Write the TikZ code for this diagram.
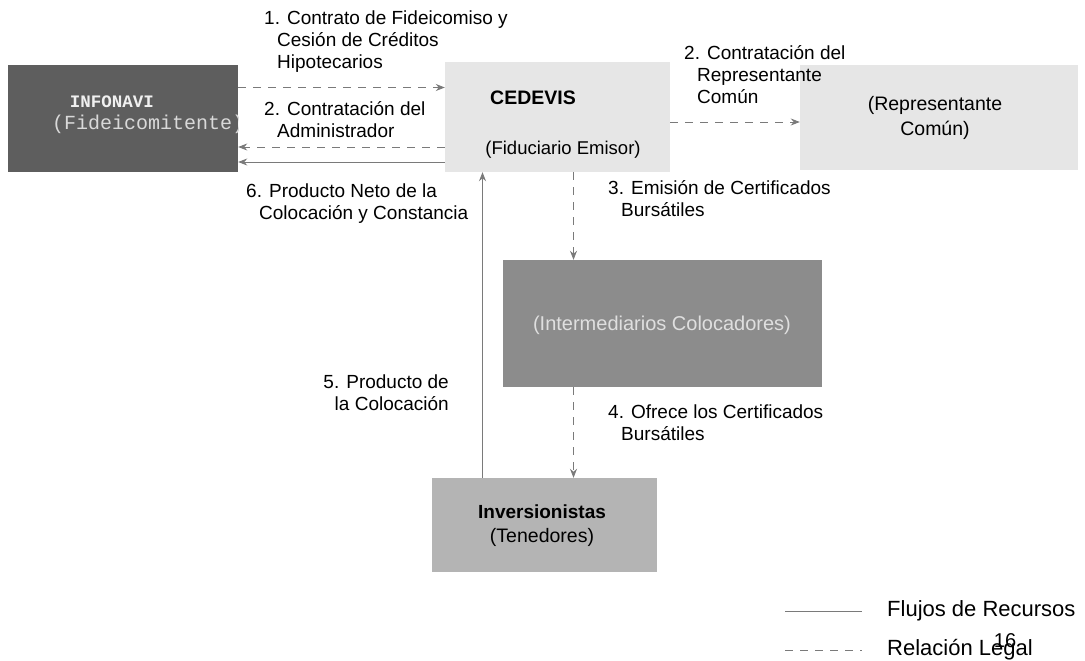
\documentclass[tikz,border=0pt]{standalone}
\usepackage{fontspec}
\setmainfont{Liberation Sans}
\setmonofont{Liberation Mono}
\usetikzlibrary{arrows.meta,positioning}

\definecolor{boxdark}{HTML}{5E5E5E}
\definecolor{boxlight}{HTML}{E6E6E6}
\definecolor{boxmid}{HTML}{8C8C8C}
\definecolor{boxinv}{HTML}{B4B4B4}
\definecolor{linegray}{HTML}{7A7A7A}

\tikzset{
  party/.style={rectangle, inner sep=0pt, draw=none},
  legal/.style={draw=linegray, line width=0.9pt, dash pattern=on 8pt off 7pt, -{Stealth[length=9pt,width=7pt]}},
  flow/.style={draw=linegray, line width=0.9pt, -{Stealth[length=9pt,width=7pt]}},
  lbl/.style={inner sep=0pt, align=left, font=\fontsize{19}{22}\selectfont}
}
\newcommand{\cont}{\hspace*{13pt}}

\begin{document}
\begin{tikzpicture}[x=1pt, y=-1pt]
\useasboundingbox (0,0) rectangle (1085,661);

% Boxes
\node[party, fill=boxdark, minimum width=230pt, minimum height=107pt] (infonavi) at (123,118.5) {};
\node[party, fill=boxlight, minimum width=225pt, minimum height=110pt] (cedevis) at (557.5,117) {};
\node[party, fill=boxlight, minimum width=278pt, minimum height=105pt] (repcomun) at (939,117.5) {};
\node[party, fill=boxmid, minimum width=319pt, minimum height=127pt] (interm) at (662.5,323.5) {};
\node[party, fill=boxinv, minimum width=225pt, minimum height=94pt] (invers) at (544.5,525) {};

% Texts in the boxes
\node[text=gray!12, font=\fontsize{17.5}{18}\selectfont\ttfamily\bfseries] (infonaviname) at (112,102) {INFONAVI};
\begin{scope}
\clip (infonavi.north west) rectangle (infonavi.south east);
\node[text=gray!30, font=\fontsize{20}{22}\selectfont\ttfamily, anchor=west, inner sep=0pt] (infonavirole) at (52,124) {(Fideicomitente)};
\end{scope}
\node[font=\fontsize{19.5}{20}\selectfont\bfseries] (cedevisname) at (533,98) {CEDEVIS};
\node[font=\fontsize{18.5}{20}\selectfont] (cedevisrole) at (563,150) {(Fiduciario Emisor)};
\node[align=center, font=\fontsize{19.5}{25}\selectfont] (repname) at (935,118) {(Representante\\Común)};
\node[text=gray!25, font=\fontsize{20}{20}\selectfont] (intermname) at (662,325) {(Intermediarios Colocadores)};
\node[font=\fontsize{19}{20}\selectfont\bfseries] (inversname) at (542,512) {Inversionistas};
\node[font=\fontsize{19.5}{20}\selectfont] (inversrole) at (542,537) {(Tenedores)};

% Legal relations
\draw[legal] ([yshift=31pt]infonavi.east) -- ([yshift=31pt]infonavi.east -| cedevis.west);
\draw[legal] ([yshift=-30pt]cedevis.west) -- ([yshift=-30pt]cedevis.west -| infonavi.east);
\draw[legal] ([yshift=-5pt]cedevis.east) -- ([yshift=-5pt]cedevis.east -| repcomun.west);
\draw[legal] ([xshift=16pt]cedevis.south) -- ([xshift=16pt]cedevis.south |- interm.north);
\draw[legal] ([xshift=16pt]cedevis.south |- interm.south) -- ([xshift=16pt]cedevis.south |- invers.north);

% Resource flows
\draw[flow] ([yshift=-45pt]cedevis.west) -- ([yshift=-45pt]cedevis.west -| infonavi.east);
\draw[flow] ([xshift=-62pt]invers.north) -- ([xshift=-62pt]invers.north |- cedevis.south);

% Labels
\node[lbl, anchor=north west] (l1) at (264,11) {1. Contrato de Fideicomiso y\\\cont Cesión de Créditos\\\cont Hipotecarios};
\node[lbl, anchor=north west] (l2a) at (264,101) {2. Contratación del\\\cont Administrador};
\node[lbl, anchor=north west] (l2r) at (684,45) {2. Contratación del\\\cont Representante\\\cont Común};
\node[lbl, anchor=north west] (l6) at (246,184) {6. Producto Neto de la\\\cont Colocación y Constancia};
\node[lbl, anchor=north west] (l3) at (608,180) {3. Emisión de Certificados\\\cont Bursátiles};
\node[lbl, anchor=north west] (l4) at (608,405) {4. Ofrece los Certificados\\\cont Bursátiles};
\node[lbl, anchor=north east, align=right] (l5) at (449,375) {5. Producto de\\la Colocación};

% Legend
\coordinate (flujoA) at (785,611);
\coordinate (flujoB) at (862,611);
\coordinate (legalA) at (785,650);
\coordinate (legalB) at (862,650);
\draw[draw=linegray, line width=0.9pt] (flujoA) -- (flujoB);
\draw[draw=linegray, line width=0.9pt, dash pattern=on 8pt off 7pt] (legalA) -- (legalB);
\node[lbl, font=\fontsize{22}{22}\selectfont, anchor=west] (flujotext) at (887,611) {Flujos de Recursos};
\node[lbl, font=\fontsize{22}{22}\selectfont, anchor=west] (legaltext) at (887,650) {Relación Legal};
\node[font=\fontsize{20}{20}\selectfont] (pagenum) at (1005,641) {16};
\end{tikzpicture}
\end{document}
